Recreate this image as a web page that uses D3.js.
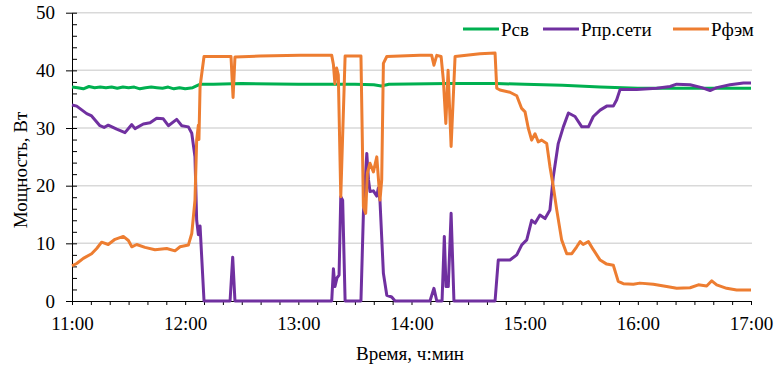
<!DOCTYPE html>
<html>
<head>
<meta charset="utf-8">
<style>
body { margin: 0; background: #fff; }
</style>
</head>
<body>
<svg width="775" height="366"></svg>
<script src="https://d3js.org/d3.v7.min.js"></script>
<script>
// минуты от 11:00 и мощность, Вт
var seriesNames = ['Рсв', 'Рпр.сети', 'Рфэм'];
var tickLabels = ['11:00', '12:00', '13:00', '14:00', '15:00', '16:00', '17:00'];
var yTicks = [0, 10, 20, 30, 40, 50];

var pSv = [[0,37.1],[3,37.0],[6,36.8],[9,37.2],[12,37.0],[15,37.1],[18,37.0],[21,37.1],[24,36.9],[27,37.1],[30,37.0],[33,37.1],[36,36.8],[39,37.0],[42,37.1],[45,37.0],[48,36.9],[51,37.1],[54,36.8],[57,37.0],[60,36.8],[64,37.0],[68,37.6],[75,37.6],[90,37.7],[120,37.6],[150,37.6],[160,37.5],[164,37.3],[168,37.6],[200,37.7],[225,37.7],[240,37.6],[260,37.4],[280,37.1],[300,36.9],[330,36.9],[360,36.9]];

var pNet = [[0,34.0],[2.5,33.8],[7.8,32.5],[10.4,32.1],[14.8,30.4],[17,30.1],[19.2,30.5],[23.7,29.8],[28.1,29.2],[31.7,30.6],[33.4,29.9],[37.8,30.7],[41.4,30.9],[44.9,31.7],[48.4,31.6],[51.1,30.4],[55.5,31.5],[58.2,30.4],[61.7,30.2],[63.5,29.1],[65.2,25],[66.1,14.0],[67,11.5],[67.9,13],[70,0],[83.8,0],[85.2,7.6],[86.4,0],[137.7,0],[138.6,5.6],[139.4,2.5],[140.5,4.0],[141.6,4.5],[142.5,18.1],[143.5,17.5],[144.8,0],[153.2,0],[154.5,15.2],[156.3,25.6],[157.2,21],[158,19],[159.8,19.1],[161.6,18.2],[162.4,19.6],[163.3,17.3],[165.1,4.8],[166.9,1.0],[169.5,0.7],[171.3,0],[189.8,0],[191.9,2.2],[193.4,0],[196.2,0],[197.4,11.2],[198.3,2.5],[199.5,2.5],[201,15.2],[202.5,0],[224.3,0],[226,7.1],[232.2,7.1],[235.8,8.0],[238.4,9.7],[241.1,10.6],[243.7,14.0],[245.5,13.5],[248.1,14.9],[250.8,14.3],[253.4,15.8],[255.2,21.6],[257.8,27.3],[260.5,30.2],[263.2,32.6],[266.7,32.0],[270.3,30.2],[273.8,30.2],[276.4,32.0],[280,33.1],[283.5,33.8],[287,33.8],[288.8,34.9],[290.6,36.7],[299.4,36.7],[310,36.9],[317.1,37.2],[320.6,37.6],[327.7,37.5],[333.9,37.0],[338.3,36.5],[341.8,37.0],[348.9,37.5],[356,37.8],[360,37.8]];

var pFem = [[0,6.1],[2.5,6.5],[6,7.4],[10.4,8.2],[13.1,9.1],[15.7,10.2],[19.2,9.8],[22.8,10.7],[27.2,11.2],[29.9,10.5],[31.7,9.4],[34.3,9.8],[38.7,9.3],[44,8.9],[50.2,9.1],[54.6,8.7],[57.3,9.4],[61.7,9.7],[63.5,11.7],[65.2,17.5],[66.1,27.9],[67,30.5],[67.3,28],[67.9,37.2],[70,42.4],[84.3,42.4],[85.4,35.3],[86.4,42.3],[99.7,42.5],[120.9,42.6],[137.7,42.6],[138.6,41],[139.4,37.7],[140.3,40.4],[141.2,39.2],[142.5,18.1],[144.8,42.5],[153.2,42.5],[154.5,16.4],[155.7,15.2],[156.6,22.2],[158,23.9],[159.8,22.4],[161.6,25],[163.3,17.5],[164.2,21],[165.1,41.2],[166.9,42.4],[184.5,42.6],[190.7,42.6],[191.9,40.9],[193.4,42.6],[195.7,42.4],[196.9,38.3],[198.2,30.8],[199.4,40],[201,26.8],[203.1,42.4],[216.3,42.9],[224.3,43.0],[225.2,36.9],[226.9,36.6],[232.2,36.2],[235.8,35.6],[238.4,33.4],[240.2,32.8],[241.9,30.0],[243.7,27.9],[245.5,29.0],[247.2,27.6],[249,27.9],[251.7,27.3],[253.4,23.3],[255.2,19.8],[257,15.8],[259.6,10.6],[262.3,8.2],[265,8.2],[267.6,9.4],[269.4,10.3],[271,9.8],[273.8,10.3],[276.4,8.9],[280,7.1],[283.5,6.4],[287,6.2],[289.6,3.4],[292.3,3.0],[297.6,2.9],[301.1,3.1],[308.2,2.9],[315.3,2.5],[320.6,2.2],[327.7,2.3],[332.1,2.8],[336.5,2.6],[339.2,3.5],[341.8,2.8],[347.1,2.2],[352.4,1.9],[360,1.9]];

var colors = ['#00b050', '#7030a0', '#ed7d31'];
var fontFamily = '"Liberation Serif", "DejaVu Serif", serif';

var svg = d3.select('svg');
var plotLeft = 72, plotRight = 751, plotTop = 12.7, plotBottom = 301;

var x = d3.scaleLinear().domain([0, 360]).range([plotLeft, plotRight]);
var y = d3.scaleLinear().domain([0, 50]).range([plotBottom, plotTop]);

// сетка
svg.append('g')
    .selectAll('line')
    .data(yTicks.slice(1))
    .join('line')
    .attr('x1', plotLeft).attr('x2', plotRight + 1)
    .attr('y1', d => y(d)).attr('y2', d => y(d))
    .attr('stroke', '#d9d9d9')
    .attr('stroke-width', 1.5);

// ось Y
var yAxis = svg.append('g')
    .attr('transform', `translate(${plotLeft},0)`)
    .call(d3.axisLeft(y).tickValues(yTicks).tickSize(6).tickSizeOuter(0).tickPadding(11));

svg.append('g')
    .attr('transform', `translate(${plotLeft},0)`)
    .call(d3.axisRight(y).tickValues(d3.range(0, 51, 2)).tickSize(5).tickSizeOuter(0).tickFormat(''))
    .select('.domain').remove();

// ось X
var xAxis = svg.append('g')
    .attr('transform', `translate(0,${plotBottom})`)
    .call(d3.axisBottom(x).tickValues(d3.range(0, 361, 10)).tickSize(4).tickSizeOuter(0).tickPadding(12)
        .tickFormat(d => d % 60 === 0 ? tickLabels[d / 60] : ''));
svg.selectAll('.domain').attr('stroke', '#000');

// линии
var line = d3.line()
    .x(d => x(d[0]))
    .y(d => y(d[1]));

[pSv, pNet, pFem].forEach(function (data, i) {
    svg.append('path')
        .datum(data)
        .attr('fill', 'none')
        .attr('stroke', colors[i])
        .attr('stroke-width', 3)
        .attr('stroke-linejoin', 'round')
        .attr('d', line);
});

// подписи осей
svg.append('text')
    .attr('x', 410).attr('y', 360)
    .attr('text-anchor', 'middle')
    .text('Время, ч:мин');

svg.append('text')
    .attr('transform', 'translate(27,170) rotate(-90)')
    .attr('text-anchor', 'middle')
    .text('Мощность, Вт');

// легенда
var legendX = [463, 543, 673];
var leg = svg.append('g')
    .selectAll('g')
    .data(seriesNames)
    .join('g')
    .attr('transform', (d, i) => `translate(${legendX[i]},29)`);
leg.append('line')
    .attr('x1', 0).attr('x2', 36)
    .attr('stroke', (d, i) => colors[i])
    .attr('stroke-width', 3);
leg.append('text')
    .attr('x', 38).attr('y', 7)
    .text(d => d);

svg.selectAll('text')
    .style('font-family', fontFamily)
    .style('font-size', '19px')
    .style('fill', '#000');
</script>
</body>
</html>
